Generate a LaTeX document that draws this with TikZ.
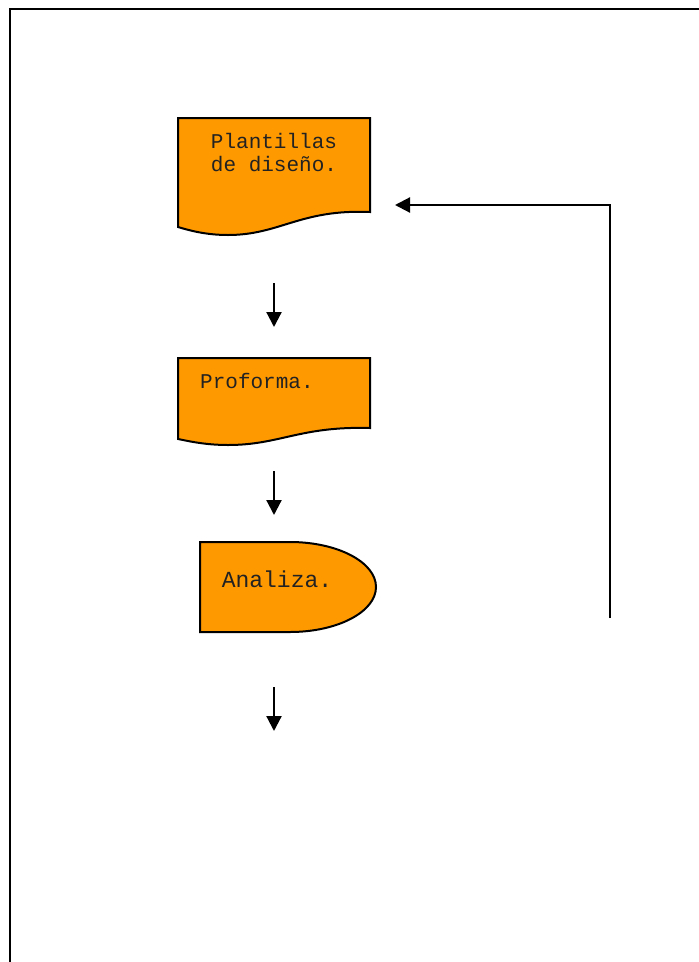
\documentclass[tikz,border=0pt]{standalone}
\usepackage{fontspec}
\setmonofont{Liberation Mono}
\usetikzlibrary{arrows.meta}
\definecolor{docorange}{HTML}{FF9900}
\definecolor{txt}{HTML}{222222}
\tikzset{
  shapeline/.style={draw=black, line width=2pt, fill=docorange, line join=miter},
  arr/.style={draw=black, line width=2.2pt, -{Triangle[length=15pt,width=15pt]}},
  frameline/.style={draw=black, line width=2.2pt},
  lbl/.style={font=\ttfamily\fontsize{21}{23}\selectfont, text=txt, inner sep=0pt, align=center},
}
\begin{document}
\begin{tikzpicture}[x=1pt,y=-1pt]
\useasboundingbox (0,0) rectangle (699,962);
% frame
\coordinate (fbl) at (10,962);
\coordinate (ftl) at (10,9);
\coordinate (ftr) at (699,9);
\draw[frameline] (fbl) -- (ftl) -- (ftr);

% document 1
\path[shapeline] (178,118) -- (370,118) -- (370,212)
  .. controls (300,209) and (280,235) .. (228,235)
  .. controls (205,235) and (188,230) .. (178,227) -- cycle;
\node[lbl] (plantillas) at (274,153) {Plantillas\\de diseño.};

% document 2
\path[shapeline] (178,358) -- (370,358) -- (370,428)
  .. controls (300,426) and (280,445) .. (228,445)
  .. controls (205,445) and (188,441) .. (178,439) -- cycle;
\node[lbl, anchor=west] (proforma) at (200,381) {Proforma.};

% delay shape
\path[shapeline] (200,542) -- (290,542) arc[start angle=-90, end angle=90, x radius=86, y radius=45] -- (200,632) -- cycle;
\node[lbl, font=\ttfamily\fontsize{23}{25}\selectfont] (analiza) at (277,579) {Analiza.};

% arrows
\coordinate (a1s) at (274,283); \coordinate (a1e) at (274,327);
\coordinate (a2s) at (274,471); \coordinate (a2e) at (274,515);
\coordinate (a3s) at (274,687); \coordinate (a3e) at (274,731);
\draw[arr] (a1s) -- (a1e);
\draw[arr] (a2s) -- (a2e);
\draw[arr] (a3s) -- (a3e);

% feedback
\coordinate (fbs) at (610,618);
\coordinate (fbc) at (610,205);
\coordinate (fbe) at (395,205);
\draw[arr, line join=miter] (fbs) -- (fbc) -- (fbe);
\end{tikzpicture}
\end{document}
